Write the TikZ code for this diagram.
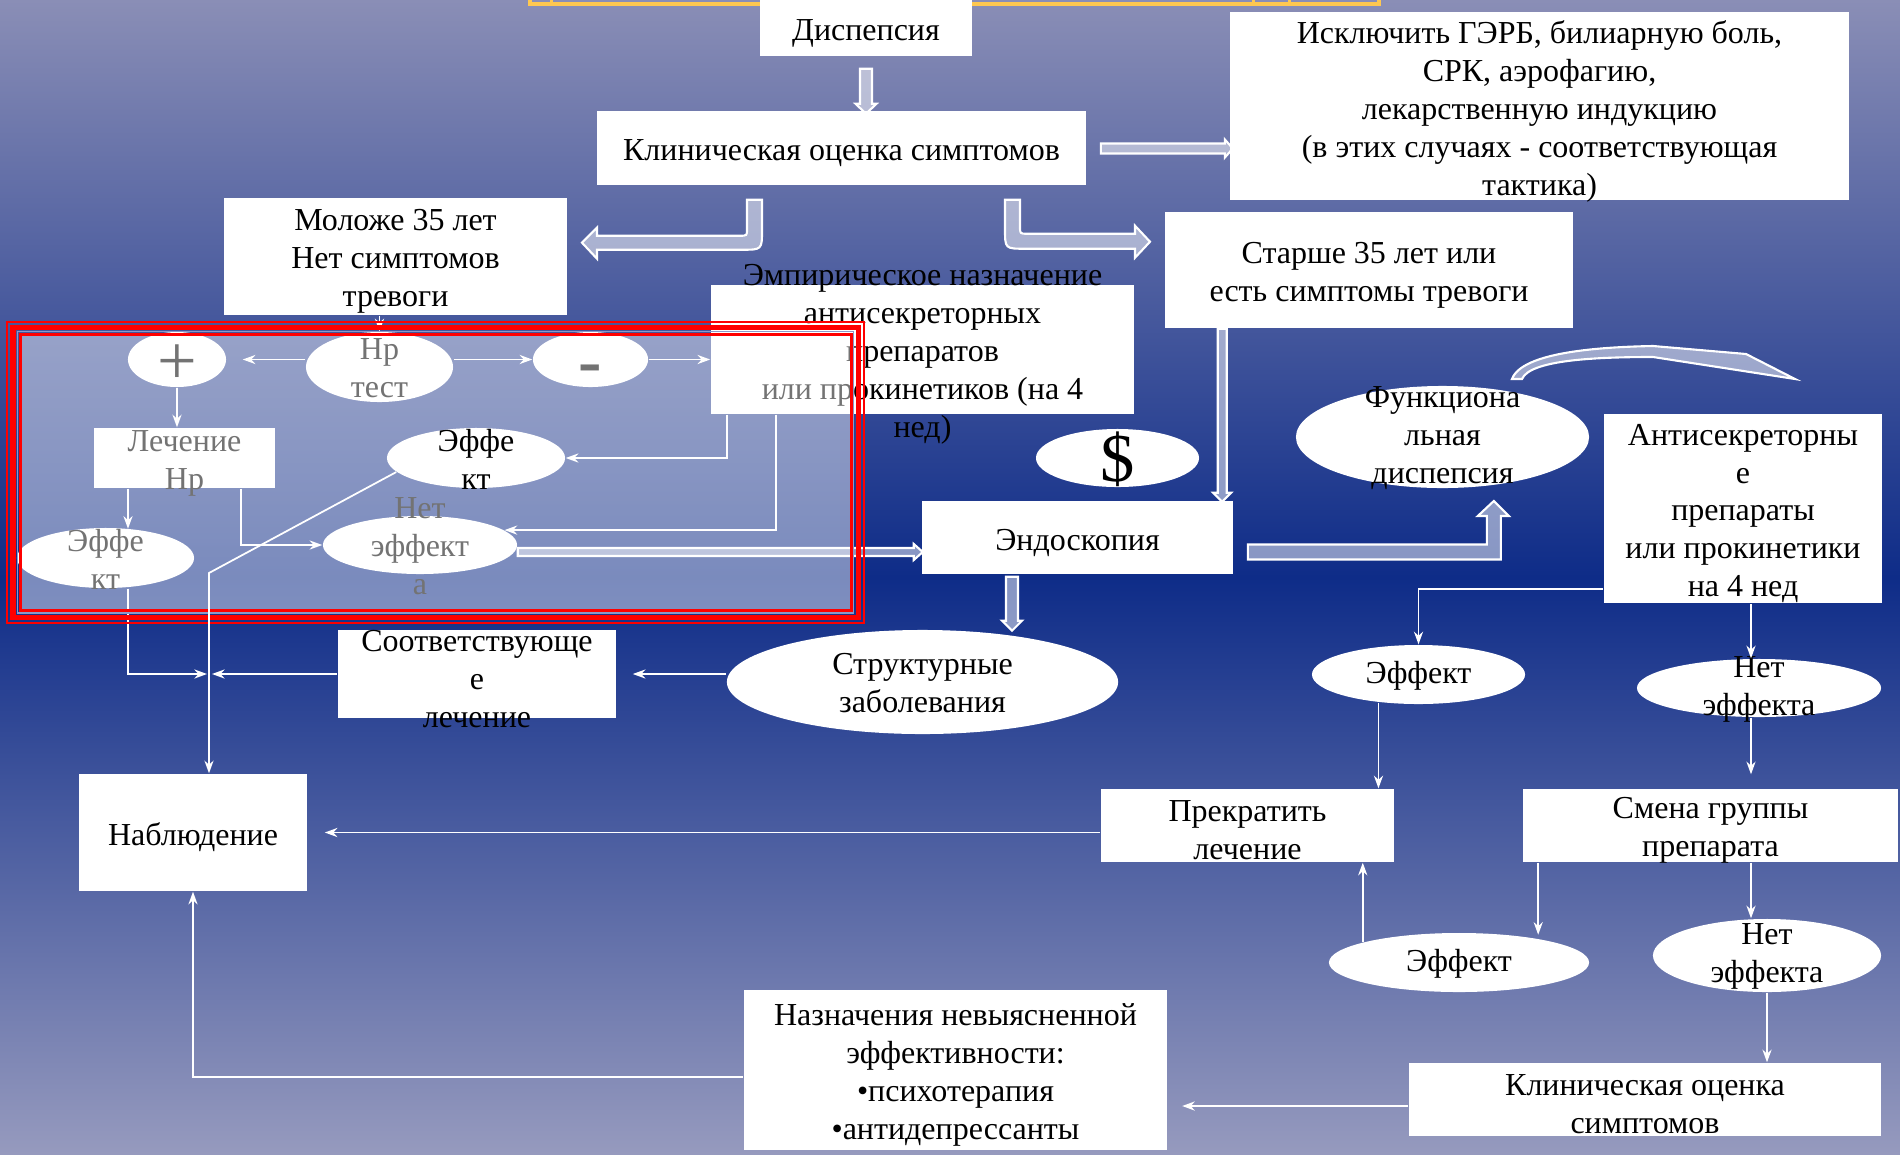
\documentclass[tikz,border=0pt]{standalone}
\usepackage{fontspec}
\setmainfont{Liberation Serif}
\usepackage{xcolor}
\definecolor{bgtop}{RGB}{138,142,182}
\definecolor{bgmid}{RGB}{14,44,136}
\definecolor{bgbot}{RGB}{150,154,190}
\definecolor{framered}{RGB}{255,0,0}
\definecolor{framegrey}{RGB}{140,152,200}
\definecolor{goldline}{RGB}{255,200,80}
\usepackage{tikz}
\usetikzlibrary{arrows.meta,positioning,shapes.geometric,calc}
\tikzset{
  >={Stealth[length=3.6pt,width=2.6pt]},
  box/.style={rectangle,fill=white,inner sep=0pt},
  oval/.style={ellipse,fill=white,inner sep=0pt},
  txt/.style={align=center,inner sep=0pt,text=black,yshift=-0.05cm},
  otxt/.style={txt,yshift=0.04cm},
  link/.style={->,draw=white,line width=0.5pt},
  blk/.style={draw=white,line width=0.6pt,fill=white,fill opacity=0.5}
}

\begin{document}
\begin{tikzpicture}[x=0.01cm,y=-0.01cm,font=\fontsize{9.1}{10.8}\selectfont]
  \useasboundingbox (0,0) rectangle (1900,1154);
  \clip (0,0) rectangle (1900,1154);
  % background
  \shade[top color=bgtop,bottom color=bgbot,middle color=bgmid] (0,0) rectangle (1900,1154);
  \draw[goldline,line width=0.045cm] (530,-40) rectangle (1379,4);
  \draw[goldline,line width=0.03cm] (551,-10) -- (551,4) (1253,-10) -- (1253,4) (1289,-10) -- (1289,4);

  % top part
  \node[box,minimum width=2.12cm,minimum height=0.56cm,label={[txt]center:{Диспепсия}}] (disp) at (866,28) {};
  \node[box,minimum width=4.89cm,minimum height=0.74cm,label={[txt]center:{Клиническая оценка симптомов}}] (clin) at (841.5,148) {};
  \node[box,minimum width=6.19cm,minimum height=1.88cm,label={[txt]center:{Исключить ГЭРБ, билиарную боль,\\СРК, аэрофагию,\\лекарственную индукцию\\(в этих случаях - соответствующая\\тактика)}}] (excl) at (1539.5,106) {};
  \node[box,minimum width=3.43cm,minimum height=1.17cm,label={[txt]center:{Моложе 35 лет\\Нет симптомов\\тревоги}}] (young) at (395.5,256.5) {};
  \node[box,minimum width=4.08cm,minimum height=1.16cm,label={[txt]center:{Старше 35 лет или\\есть симптомы тревоги}}] (old) at (1369,270) {};
  \node[box,minimum width=4.23cm,minimum height=1.29cm,label={[txt]center:{Эмпирическое назначение\\антисекреторных\\препаратов\\или прокинетиков (на 4\\нед)}}] (emp) at (922.5,349.5) {};

  % Hp branch
  \node[oval,minimum width=0.98cm,minimum height=0.55cm,label={[txt,font=\fontsize{20}{20}\selectfont]center:{+}}] (plus) at (177,359.5) {};
  \node[oval,minimum width=1.47cm,minimum height=0.70cm,label={[otxt]center:{Hp\\тест}}] (hp) at (379.5,367) {};
  \node[oval,minimum width=1.15cm,minimum height=0.55cm,label={[txt,yshift=-0.1cm,font=\fontsize{20}{20}\selectfont\bfseries]center:{-}}] (minus) at (590.5,359.5) {};
  \node[box,minimum width=1.81cm,minimum height=0.60cm,label={[txt]center:{Лечение\\Hp}}] (hpcure) at (184.5,458) {};
  \node[oval,minimum width=1.94cm,minimum height=0.58cm,label={[otxt]center:{Нет\\эффект\\а}}] (noeffL) at (420,545) {};
  \node[oval,minimum width=1.77cm,minimum height=0.60cm,label={[otxt]center:{Эффе\\кт}}] (effL) at (105.5,558) {};

  % endoscopy branch
  \node[oval,minimum width=1.63cm,minimum height=0.58cm,label={[otxt,font=\fontsize{19.5}{20}\selectfont]center:{\$}}] (dollar) at (1117.5,458) {};
  \node[box,minimum width=3.11cm,minimum height=0.73cm,label={[txt]center:{Эндоскопия}}] (endo) at (1077.5,537.5) {};
  \node[oval,minimum width=2.93cm,minimum height=1.02cm,label={[otxt]center:{Функциона\\льная\\диспепсия}}] (func) at (1442.5,437) {};
  \node[box,minimum width=2.78cm,minimum height=1.89cm,label={[txt]center:{Антисекреторны\\е\\препараты\\или прокинетики\\на 4 нед}}] (anti) at (1743,508.5) {};
  \node[oval,minimum width=3.91cm,minimum height=1.04cm,label={[otxt]center:{Структурные\\заболевания}}] (struct) at (922.5,682) {};
  \node[box,minimum width=2.78cm,minimum height=0.88cm,label={[txt]center:{Соответствующе\\е\\лечение}}] (approp) at (477,674) {};
  \node[box,minimum width=2.28cm,minimum height=1.17cm,label={[txt]center:{Наблюдение}}] (obs) at (193,832.5) {};

  % right column
  \node[oval,minimum width=2.13cm,minimum height=0.59cm,label={[otxt]center:{Эффект}}] (eff1) at (1418.5,674.5) {};
  \node[oval,minimum width=2.44cm,minimum height=0.58cm,label={[otxt]center:{Нет\\эффекта}}] (noeff1) at (1759,688) {};
  \node[box,minimum width=2.93cm,minimum height=0.73cm,label={[txt]center:{Прекратить\\лечение}}] (stop) at (1247.5,825.5) {};
  \node[box,minimum width=3.75cm,minimum height=0.73cm,label={[txt]center:{Смена группы\\препарата}}] (change) at (1710.5,825.5) {};
  \node[oval,minimum width=2.60cm,minimum height=0.59cm,label={[otxt]center:{Эффект}}] (eff2) at (1459,962.5) {};
  \node[oval,minimum width=2.28cm,minimum height=0.73cm,label={[otxt]center:{Нет\\эффекта}}] (noeff2) at (1767,955.5) {};
  \node[box,minimum width=4.72cm,minimum height=0.73cm,label={[txt]center:{Клиническая оценка\\симптомов}}] (clin2) at (1645,1099.5) {};
  \node[box,minimum width=4.23cm,minimum height=1.60cm,label={[txt]center:{Назначения невыясненной\\эффективности:\\•психотерапия\\•антидепрессанты}}] (presc) at (955.5,1070) {};

  \coordinate (col) at (1751,0);
  \coordinate (bend) at (209,573);
  \coordinate (junc) at (209,674);

  % block arrows
  \draw[blk,shift={(disp.south)}] (-6,12) -- (-6,47) -- (-10.5,47) -- (0,57) -- (10.5,47) -- (6,47) -- (6,12) -- cycle;
  \draw[blk,shift={(clin.east)}] (14,-4.5) -- (138,-4.5) -- (138,-8.5) -- (146,0.5) -- (138,9.5) -- (138,5.5) -- (14,5.5) -- cycle;
  \draw[blk,shift={(clin.south)}] (-94.5,14) -- (-94.5,43) .. controls (-94.5,50) .. (-101.5,50) -- (-244.5,50) -- (-244.5,42) -- (-259.5,57) -- (-244.5,73) -- (-244.5,64) -- (-99.5,64) .. controls (-79.5,64) .. (-79.5,44) -- (-79.5,14) -- cycle;
  \draw[blk,shift={(clin.south)}] (178.5,14) -- (178.5,41) .. controls (178.5,48) .. (185.5,48) -- (293.5,48) -- (293.5,40) -- (308.5,56) -- (293.5,72) -- (293.5,63) -- (183.5,63) .. controls (163.5,63) .. (163.5,43) -- (163.5,14) -- cycle;
  \draw[blk,shift={(old.south west)}] (53.5,0) -- (53.5,164) -- (49,164) -- (58,173) -- (67,164) -- (62.5,164) -- (62.5,0) -- cycle;
  \draw[blk,shift={(noeffL.east)}] (0,3) -- (396,3) -- (396,-1) -- (405,7) -- (396,15) -- (396,11) -- (0,11) -- cycle;
  \draw[blk,shift={(endo.south)}] (-71.5,2) -- (-71.5,46) -- (-75.5,46) -- (-65.5,56) -- (-55.5,46) -- (-59.5,46) -- (-59.5,2) -- cycle;
  \draw[blk,shift={(endo.east)}] (14,7) -- (253,7) -- (253,-21.5) -- (244,-21.5) -- (260,-36.5) -- (275,-21.5) -- (267,-21.5) -- (267,22) -- (14,22) -- cycle;
  \draw[blk] (1512,379) .. controls (1522,352) and (1600,347) .. (1653,346) -- (1746,354) -- (1795,379) -- (1653,357) .. controls (1595,357) and (1530,360) .. (1522,379) -- cycle;

  % thin connectors
  \draw[link] (young.south -| hp.north) -- (hp.north);
  \draw[link,shorten >=0.16cm] (hp.west |- plus.east) -- (plus.east);
  \draw[link] (hp.east |- minus.west) -- (minus.west);
  \draw[link] (minus.east) -- (minus.east -| emp.west);
  \draw[link] (plus.south) -- (plus.south |- hpcure.north);
  \draw[link] ($(emp.south west)+(66,0)$) |- (noeffL.10);
  \draw[link] ($(hpcure.south)+(56.5,0)$) |- (noeffL.west);
  \draw[link] ($(hpcure.south)+(-56.5,0)$) -- ++(0,40);
  \draw[link,shorten >=0.02cm] ($(effL.south)+(22.5,0)$) |- (junc);
  \draw[link,shorten >=0.03cm] (approp.west) -- (junc);
  \draw[link,shorten >=0.16cm] (struct.west |- approp.east) -- (approp.east);
  \draw[link] ($(anti.south west)+(0,-15)$) -| (eff1.north);
  \draw[link] (col |- anti.south) -- (col |- noeff1.north);
  \draw[link,shorten >=0.14cm] (col |- noeff1.south) -- (col |- change.north);
  \draw[link] (eff1.215) -- (eff1.215 |- stop.north);
  \draw[link,shorten >=0.17cm] (stop.west |- obs.east) -- (obs.east);
  \draw[link] ($(change.south west)+(16,0)$) -- ++(0,72);
  \draw[link] (col |- change.south) -- (col |- noeff2.north);
  \draw[link] (noeff2.south) -- (noeff2.south |- clin2.north);
  \draw[link] (eff2.168) -- (eff2.168 |- stop.south);
  \draw[link] ($(clin2.west)+(0,6.5)$) -- ++(-226,0);
  \draw[link] ($(presc.west)+(0,7)$) -| (obs.south);

  % Hp frame
  \fill[white,fill opacity=0.45] (21,335) rectangle (850,609);
  \draw[framered,line width=0.025cm] (7,322) rectangle (864,623);
  \draw[framered,line width=0.05cm] (13,327.5) rectangle (858,617.5);
  \draw[framegrey,line width=0.015cm] (17.5,331.5) rectangle (853.5,613);
  \draw[framered,line width=0.03cm] (20.5,334) rectangle (851,610);

  \node[oval,minimum width=1.78cm,minimum height=0.60cm,label={[otxt]center:{Эффе\\кт}}] (effmid) at (476,458) {};
  \draw[link] ($(emp.south west)+(17,0)$) |- (effmid.east);
  \draw[link] (effmid.190) -- (bend) -- (bend |- obs.north);
\end{tikzpicture}
\end{document}
